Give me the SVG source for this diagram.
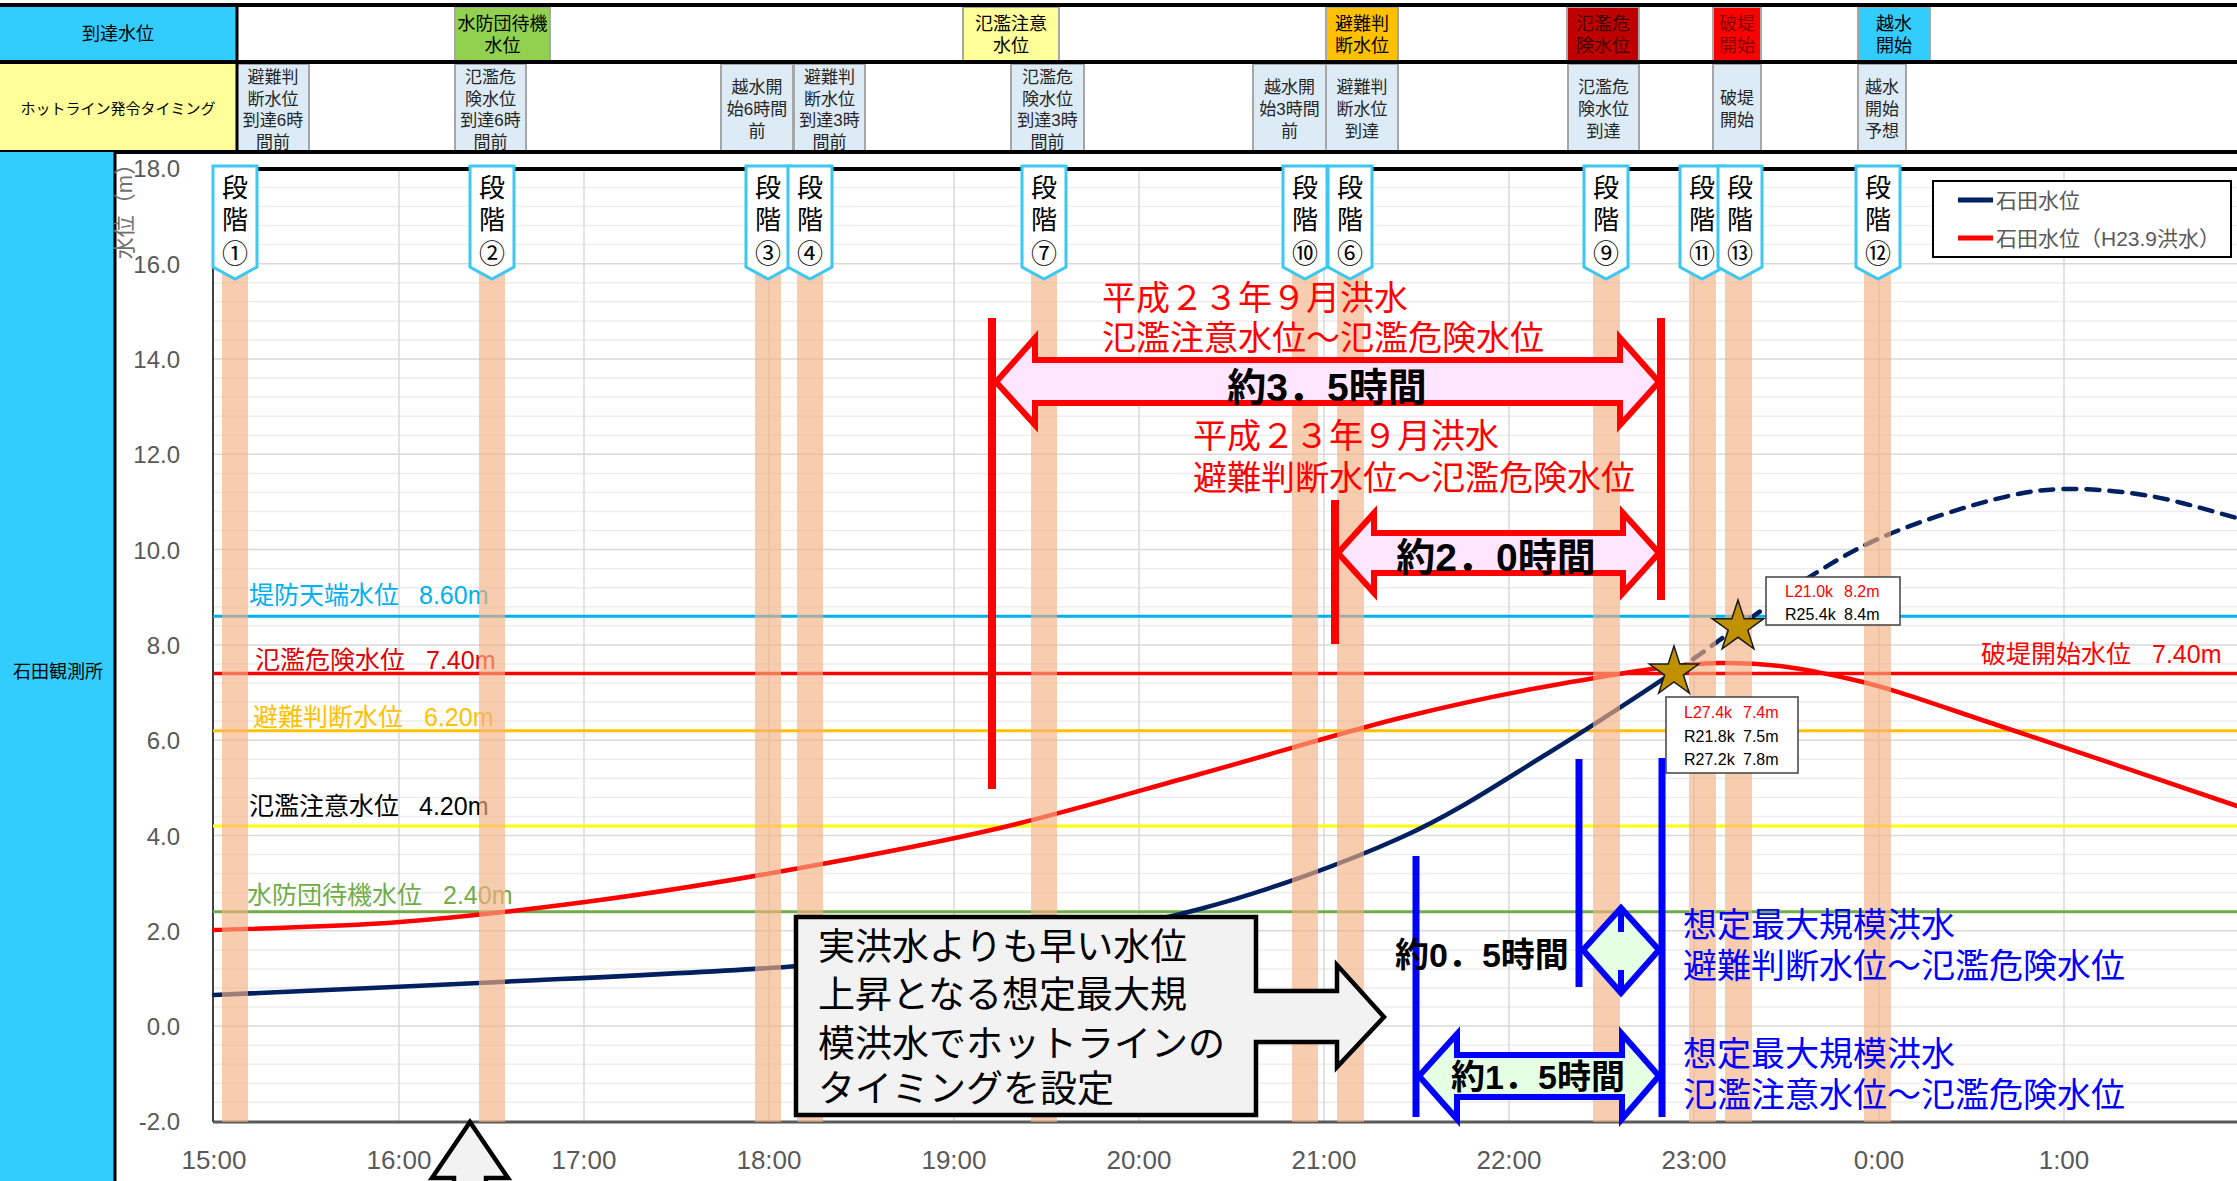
<svg xmlns="http://www.w3.org/2000/svg" width="2237" height="1181" viewBox="0 0 2237 1181">
<style>
.jp{font-family:"Liberation Sans","Noto Sans CJK JP",sans-serif}
.num{font-family:"Liberation Sans",Arial,sans-serif}
.hc{font-size:18px;text-anchor:middle;fill:#000}
.h2{font-size:17px;text-anchor:middle;fill:#262626}
.cb{stroke:#A6A6A6;stroke-width:2}
.band{fill:#F4B183;opacity:0.65}
.stage polygon{fill:#fff;stroke:#3CC8F2;stroke-width:3}
.stage text{font-size:26px;text-anchor:middle;fill:#000}
.tick{font-size:24px;fill:#595959;text-anchor:end}
.xt{font-size:26px;fill:#595959;text-anchor:middle}
.gmin{stroke:#EDEDED;stroke-width:1.5;fill:none}
.gmaj{stroke:#D9D9D9;stroke-width:1.5;fill:none}
.rl{font-size:25px}
.ann{font-size:34px}
.bld{font-weight:700;fill:#000}
.star{fill:#BF9000;stroke:#1a1a1a;stroke-width:1.5}
.box{fill:#fff;stroke:#404040;stroke-width:1.5}
.sm{font-size:16px}
.curve{fill:none;stroke-width:4.5;stroke-linejoin:round;stroke-linecap:round}
</style>
<rect x="0" y="0" width="2237" height="1181" fill="#fff"/>

<!-- header -->
<g id="header">
  <rect x="0" y="5" width="237" height="57" fill="#33CCFF"/>
  <rect x="0" y="62" width="237" height="90" fill="#FFFF99"/>
  <text class="jp hc" x="118" y="40">到達水位</text>
  <text class="jp" x="118" y="114" font-size="15" text-anchor="middle">ホットライン発令タイミング</text>
  <g id="row1">
    <rect class="cb" x="455" y="7" width="95" height="54" fill="#92D050"/>
    <text class="jp hc" x="502.5" y="30">水防団待機<tspan x="502.5" y="52">水位</tspan></text>
    <rect class="cb" x="963" y="7" width="96" height="54" fill="#FFFF99"/>
    <text class="jp hc" x="1011" y="30">氾濫注意<tspan x="1011" y="52">水位</tspan></text>
    <rect class="cb" x="1326" y="7" width="72" height="54" fill="#FFC000"/>
    <text class="jp hc" x="1362" y="30">避難判<tspan x="1362" y="52">断水位</tspan></text>
    <rect class="cb" x="1567" y="7" width="72" height="54" fill="#C00000"/>
    <text class="jp hc" x="1603" y="30" style="fill:#400000">氾濫危<tspan x="1603" y="52">険水位</tspan></text>
    <rect class="cb" x="1713" y="7" width="48" height="54" fill="#FF0000"/>
    <text class="jp hc" x="1737" y="30" style="fill:#800000">破堤<tspan x="1737" y="52">開始</tspan></text>
    <rect class="cb" x="1858" y="7" width="72" height="54" fill="#33CCFF"/>
    <text class="jp hc" x="1894" y="30">越水<tspan x="1894" y="52">開始</tspan></text>
  </g>
  <g id="row2" fill="#DDEBF7">
    <rect class="cb" x="237" y="64" width="72" height="87"/>
    <text class="jp h2" x="273" y="83">避難判<tspan x="273" y="105">断水位</tspan><tspan x="273" y="126">到達6時</tspan><tspan x="273" y="148">間前</tspan></text>
    <rect class="cb" x="455" y="64" width="71" height="87"/>
    <text class="jp h2" x="490.5" y="83">氾濫危<tspan x="490.5" y="105">険水位</tspan><tspan x="490.5" y="126">到達6時</tspan><tspan x="490.5" y="148">間前</tspan></text>
    <rect class="cb" x="721" y="64" width="72" height="87"/>
    <text class="jp h2" x="757" y="93">越水開<tspan x="757" y="115">始6時間</tspan><tspan x="757" y="137">前</tspan></text>
    <rect class="cb" x="794" y="64" width="71" height="87"/>
    <text class="jp h2" x="829.5" y="83">避難判<tspan x="829.5" y="105">断水位</tspan><tspan x="829.5" y="126">到達3時</tspan><tspan x="829.5" y="148">間前</tspan></text>
    <rect class="cb" x="1011" y="64" width="73" height="87"/>
    <text class="jp h2" x="1047.5" y="83">氾濫危<tspan x="1047.5" y="105">険水位</tspan><tspan x="1047.5" y="126">到達3時</tspan><tspan x="1047.5" y="148">間前</tspan></text>
    <rect class="cb" x="1253" y="64" width="73" height="87"/>
    <text class="jp h2" x="1289.5" y="93">越水開<tspan x="1289.5" y="115">始3時間</tspan><tspan x="1289.5" y="137">前</tspan></text>
    <rect class="cb" x="1326" y="64" width="72" height="87"/>
    <text class="jp h2" x="1362" y="93">避難判<tspan x="1362" y="115">断水位</tspan><tspan x="1362" y="137">到達</tspan></text>
    <rect class="cb" x="1568" y="64" width="71" height="87"/>
    <text class="jp h2" x="1603.5" y="93">氾濫危<tspan x="1603.5" y="115">険水位</tspan><tspan x="1603.5" y="137">到達</tspan></text>
    <rect class="cb" x="1713" y="64" width="48" height="87"/>
    <text class="jp h2" x="1737" y="104">破堤<tspan x="1737" y="126">開始</tspan></text>
    <rect class="cb" x="1858" y="64" width="48" height="87"/>
    <text class="jp h2" x="1882" y="93">越水<tspan x="1882" y="115">開始</tspan><tspan x="1882" y="137">予想</tspan></text>
  </g>
  <path d="M0 5H2237M0 62H2237M0 152H2237" stroke="#000" stroke-width="4" fill="none"/>
  <path d="M237 5V152" stroke="#000" stroke-width="3"/>
</g>

<!-- left panel -->
<g id="station">
  <rect x="0" y="152" width="115" height="1029" fill="#33CCFF"/>
  <path d="M115 152V1181" stroke="#000" stroke-width="3"/>
  <text class="jp" x="58" y="678" font-size="18" text-anchor="middle">石田観測所</text>
</g>

<!-- grid -->
<g id="grid">
  <path class="gmin" d="M213 187.5H2237M213 206.5H2237M213 225.6H2237M213 244.6H2237M213 282.8H2237M213 301.8H2237M213 320.9H2237M213 339.9H2237M213 378.1H2237M213 397.1H2237M213 416.2H2237M213 435.2H2237M213 473.4H2237M213 492.4H2237M213 511.5H2237M213 530.5H2237M213 568.7H2237M213 587.7H2237M213 606.8H2237M213 625.8H2237M213 664H2237M213 683H2237M213 702.1H2237M213 721.1H2237M213 759.3H2237M213 778.3H2237M213 797.4H2237M213 816.4H2237M213 854.6H2237M213 873.6H2237M213 892.7H2237M213 911.7H2237M213 949.9H2237M213 968.9H2237M213 988H2237M213 1007H2237M213 1045.2H2237M213 1064.2H2237M213 1083.3H2237M213 1102.3H2237"/>
  <path class="gmaj" d="M213 263.7H2237M213 359H2237M213 454.3H2237M213 549.6H2237M213 644.9H2237M213 740.2H2237M213 835.5H2237M213 930.8H2237M213 1026.1H2237"/>
  <path class="gmaj" d="M399 169V1122M584 169V1122M769 169V1122M954 169V1122M1139 169V1122M1324 169V1122M1509 169V1122M1694 169V1122M1879 169V1122M2064 169V1122"/>
</g>

<!-- axes -->
<g id="axes">
  <path d="M213 169H2237" stroke="#000" stroke-width="4"/>
  <path d="M213 169V1122" stroke="#404040" stroke-width="2"/>
  <path d="M213 1122H2237" stroke="#595959" stroke-width="3"/>
  <g class="num tick">
    <text x="180" y="177">18.0</text><text x="180" y="273">16.0</text><text x="180" y="368">14.0</text><text x="180" y="463">12.0</text><text x="180" y="559">10.0</text><text x="180" y="654">8.0</text><text x="180" y="749">6.0</text><text x="180" y="845">4.0</text><text x="180" y="940">2.0</text><text x="180" y="1035">0.0</text><text x="180" y="1130">-2.0</text>
  </g>
  <text class="jp" x="132" y="206" font-size="22" fill="#6F6F6F" text-anchor="middle" transform="rotate(-90 132 206)">水位（m）</text>
  <g class="num xt">
    <text x="214" y="1169">15:00</text><text x="399" y="1169">16:00</text><text x="584" y="1169">17:00</text><text x="769" y="1169">18:00</text><text x="954" y="1169">19:00</text><text x="1139" y="1169">20:00</text><text x="1324" y="1169">21:00</text><text x="1509" y="1169">22:00</text><text x="1694" y="1169">23:00</text><text x="1879" y="1169">0:00</text><text x="2064" y="1169">1:00</text>
  </g>
</g>

<!-- reference water levels -->
<g id="levels">
  <path d="M213 616.3H2237" stroke="#00B0F0" stroke-width="3"/>
  <path d="M213 673.5H2237" stroke="#FF0000" stroke-width="3.5"/>
  <path d="M213 730.7H2237" stroke="#FFC000" stroke-width="3"/>
  <path d="M213 826H2237" stroke="#FFFF00" stroke-width="3"/>
  <path d="M213 911.7H2237" stroke="#70AD47" stroke-width="3"/>
  <text class="jp rl" x="249" y="604" fill="#00B0F0">堤防天端水位<tspan x="419">8.60m</tspan></text>
  <text class="jp rl" x="255" y="669" fill="#E00000">氾濫危険水位<tspan x="426">7.40m</tspan></text>
  <text class="jp rl" x="253" y="726" fill="#FFC000">避難判断水位<tspan x="424">6.20m</tspan></text>
  <text class="jp rl" x="249" y="815" fill="#000">氾濫注意水位<tspan x="419">4.20m</tspan></text>
  <text class="jp rl" x="247" y="904" fill="#70AD47">水防団待機水位<tspan x="443">2.40m</tspan></text>
  <text class="jp rl" x="1981" y="663" fill="#FF0000">破堤開始水位<tspan x="2152">7.40m</tspan></text>
</g>

<!-- curves -->
<g id="series">
  <path class="curve" stroke="#FF0000" d="M214 930C245 928.7 335.7 927 400 922C464.3 917 533.3 909 600 900C666.7 891 733.3 880 800 868C866.7 856 933.3 843.7 1000 828C1066.7 812.3 1133.3 792.3 1200 774C1266.7 755.7 1340 733 1400 718C1460 703 1506.7 693.2 1560 684C1613.3 674.8 1671.7 663.8 1720 663C1768.3 662.2 1803.3 668.5 1850 679C1896.7 689.5 1935.5 704.8 2000 726C2064.5 747.2 2197.5 792.7 2237 806"/>
  <path class="curve" stroke="#002060" d="M214 995C261.7 992.8 402.3 986.8 500 982C597.7 977.2 716.7 972 800 966C883.3 960 933.3 955.5 1000 946C1066.7 936.5 1133.3 927 1200 909C1266.7 891 1341.7 864.2 1400 838C1458.3 811.8 1504.3 779.7 1550 752C1595.7 724.3 1642.7 692.8 1674 672"/>
  <path class="curve" stroke="#002060" stroke-dasharray="13 10" stroke-linecap="butt" d="M1674 672C1705.3 651.2 1713.8 643.8 1738 627C1762.2 610.2 1793.3 586.7 1819 571C1844.7 555.3 1863.2 544.8 1892 533C1920.8 521.2 1963.3 507.3 1992 500C2020.7 492.7 2037.7 489.7 2064 489C2090.3 488.3 2121.2 491.2 2150 496C2178.8 500.8 2222.5 514.3 2237 518"/>
</g>

<!-- stage bands -->
<g id="bands">
  <rect class="band" x="222" y="268" width="26" height="854"/>
  <rect class="band" x="479" y="268" width="26" height="854"/>
  <rect class="band" x="755" y="268" width="26" height="854"/>
  <rect class="band" x="797" y="268" width="26" height="854"/>
  <rect class="band" x="1031" y="268" width="26" height="854"/>
  <rect class="band" x="1292" y="268" width="26" height="854"/>
  <rect class="band" x="1337" y="268" width="27" height="854"/>
  <rect class="band" x="1593" y="268" width="27" height="854"/>
  <rect class="band" x="1689" y="268" width="27" height="854"/>
  <rect class="band" x="1725" y="268" width="27" height="854"/>
  <rect class="band" x="1864" y="268" width="27" height="854"/>
</g>

<!-- stage labels -->
<g id="stage-1" class="stage jp"><polygon points="213,166 257,166 257,267 235,279 213,267"/><text x="235" y="197">段<tspan x="235" y="229">階</tspan><tspan x="235" y="263">①</tspan></text></g>
<g id="stage-2" class="stage jp"><polygon points="470,166 514,166 514,267 492,279 470,267"/><text x="492" y="197">段<tspan x="492" y="229">階</tspan><tspan x="492" y="263">②</tspan></text></g>
<g id="stage-3" class="stage jp"><polygon points="746,166 790,166 790,267 768,279 746,267"/><text x="768" y="197">段<tspan x="768" y="229">階</tspan><tspan x="768" y="263">③</tspan></text></g>
<g id="stage-4" class="stage jp"><polygon points="788,166 832,166 832,267 810,279 788,267"/><text x="810" y="197">段<tspan x="810" y="229">階</tspan><tspan x="810" y="263">④</tspan></text></g>
<g id="stage-7" class="stage jp"><polygon points="1022,166 1066,166 1066,267 1044,279 1022,267"/><text x="1044" y="197">段<tspan x="1044" y="229">階</tspan><tspan x="1044" y="263">⑦</tspan></text></g>
<g id="stage-10" class="stage jp"><polygon points="1283,166 1327,166 1327,267 1305,279 1283,267"/><text x="1305" y="197">段<tspan x="1305" y="229">階</tspan><tspan x="1305" y="263">⑩</tspan></text></g>
<g id="stage-6" class="stage jp"><polygon points="1328,166 1372,166 1372,267 1350,279 1328,267"/><text x="1350" y="197">段<tspan x="1350" y="229">階</tspan><tspan x="1350" y="263">⑥</tspan></text></g>
<g id="stage-9" class="stage jp"><polygon points="1584,166 1628,166 1628,267 1606,279 1584,267"/><text x="1606" y="197">段<tspan x="1606" y="229">階</tspan><tspan x="1606" y="263">⑨</tspan></text></g>
<g id="stage-11" class="stage jp"><polygon points="1680,166 1724,166 1724,267 1702,279 1680,267"/><text x="1702" y="197">段<tspan x="1702" y="229">階</tspan><tspan x="1702" y="263">⑪</tspan></text></g>
<g id="stage-13" class="stage jp"><polygon points="1718,166 1762,166 1762,267 1740,279 1718,267"/><text x="1740" y="197">段<tspan x="1740" y="229">階</tspan><tspan x="1740" y="263">⑬</tspan></text></g>
<g id="stage-12" class="stage jp"><polygon points="1856,166 1900,166 1900,267 1878,279 1856,267"/><text x="1878" y="197">段<tspan x="1878" y="229">階</tspan><tspan x="1878" y="263">⑫</tspan></text></g>

<!-- connectors: annotation lines and arrows -->
<g id="connectors">
  <path d="M992 318V789M1661 318V600M1335 500V644" stroke="#FF0000" stroke-width="8"/>
  <polygon points="996,382 1035,338 1035,360 1620,360 1620,338 1659,382 1620,425 1620,403 1035,403 1035,425" fill="#FFE5FF" stroke="#FF0000" stroke-width="6"/>
  <polygon points="1338,553 1374,513 1374,533 1623,533 1623,513 1659,553 1623,593 1623,573 1374,573 1374,593" fill="#FFE5FF" stroke="#FF0000" stroke-width="6"/>
  <path d="M1416 856V1117M1579 759V987M1662 758V1117" stroke="#0000FF" stroke-width="7"/>
  <polygon points="1583,950 1621,908 1659,950 1621,993" fill="#E5FFE5" stroke="#0000FF" stroke-width="6"/>
  <path d="M1621 908V932M1621 970V993" stroke="#0000FF" stroke-width="6"/>
  <polygon points="1419,1076 1457,1034 1457,1055 1622,1055 1622,1034 1659,1076 1622,1119 1622,1097 1457,1097 1457,1119" fill="#E5FFE5" stroke="#0000FF" stroke-width="6"/>
</g>

<g id="annotations" class="jp">
  <text class="ann" x="1102" y="310" fill="#FF0000">平成２３年９月洪水<tspan x="1102" y="350">氾濫注意水位～氾濫危険水位</tspan></text>
  <text class="ann" x="1193" y="448" fill="#FF0000">平成２３年９月洪水<tspan x="1193" y="490">避難判断水位～氾濫危険水位</tspan></text>
  <text class="bld" x="1327" y="401" font-size="39" text-anchor="middle">約3．5時間</text>
  <text class="bld" x="1496" y="571" font-size="39" text-anchor="middle">約2．0時間</text>
  <text class="bld" x="1395" y="967" font-size="34">約0．5時間</text>
  <text class="bld" x="1538" y="1089" font-size="34" text-anchor="middle">約1．5時間</text>
  <text class="ann" x="1683" y="937" fill="#0000FF">想定最大規模洪水<tspan x="1683" y="978">避難判断水位～氾濫危険水位</tspan></text>
  <text class="ann" x="1683" y="1066" fill="#0000FF">想定最大規模洪水<tspan x="1683" y="1107">氾濫注意水位～氾濫危険水位</tspan></text>
</g>

<!-- stars and labels -->
<g id="star-1">
  <polygon class="star" points="1674,646 1679.8,664 1698.7,664 1683.4,675.1 1689.3,693 1674,681.9 1658.7,693 1664.6,675.1 1649.3,664 1668.2,664"/>
</g>
<g id="star-2">
  <polygon class="star" points="1738,600 1744.1,618.7 1763.7,618.7 1747.8,630.2 1753.9,648.8 1738,637.3 1722.1,648.8 1728.2,630.2 1712.3,618.7 1731.9,618.7"/>
</g>
<g id="label-star-2" class="num sm">
  <rect class="box" x="1766" y="577" width="134" height="48"/>
  <text x="1785" y="597" fill="#FF0000">L21.0k<tspan x="1844">8.2m</tspan></text>
  <text x="1785" y="620" fill="#000">R25.4k<tspan x="1844">8.4m</tspan></text>
</g>
<g id="label-star-1" class="num sm">
  <rect class="box" x="1666" y="697" width="132" height="76"/>
  <text x="1684" y="718" fill="#FF0000">L27.4k<tspan x="1743">7.4m</tspan></text>
  <text x="1684" y="742" fill="#000">R21.8k<tspan x="1743">7.5m</tspan></text>
  <text x="1684" y="765" fill="#000">R27.2k<tspan x="1743">7.8m</tspan></text>
</g>

<!-- callout -->
<g id="callout" class="jp">
  <polygon points="796,917 1256,917 1256,991 1337,991 1337,965 1384,1017 1337,1067 1337,1042 1256,1042 1256,1115 796,1115" fill="#F2F2F2" stroke="#000" stroke-width="4.5"/>
  <text x="818" y="960" font-size="37">実洪水よりも早い水位<tspan x="818" y="1008">上昇となる想定最大規</tspan><tspan x="818" y="1057">模洪水でホットラインの</tspan><tspan x="818" y="1102">タイミングを設定</tspan></text>
</g>
<g id="up-arrow">
  <polygon points="470,1122 508,1178 486,1178 486,1190 454,1190 454,1178 432,1178" fill="#F2F2F2" stroke="#000" stroke-width="4.5"/>
</g>

<!-- legend -->
<g id="legend" class="jp">
  <rect x="1933" y="181" width="298" height="76" fill="#fff" stroke="#000" stroke-width="2"/>
  <path d="M1958 200H1993" stroke="#002060" stroke-width="5"/>
  <path d="M1958 238H1993" stroke="#FF0000" stroke-width="5"/>
  <text x="1996" y="208" font-size="21" fill="#595959">石田水位</text>
  <text x="1996" y="246" font-size="21" fill="#595959">石田水位（H23.9洪水）</text>
</g>
</svg>
